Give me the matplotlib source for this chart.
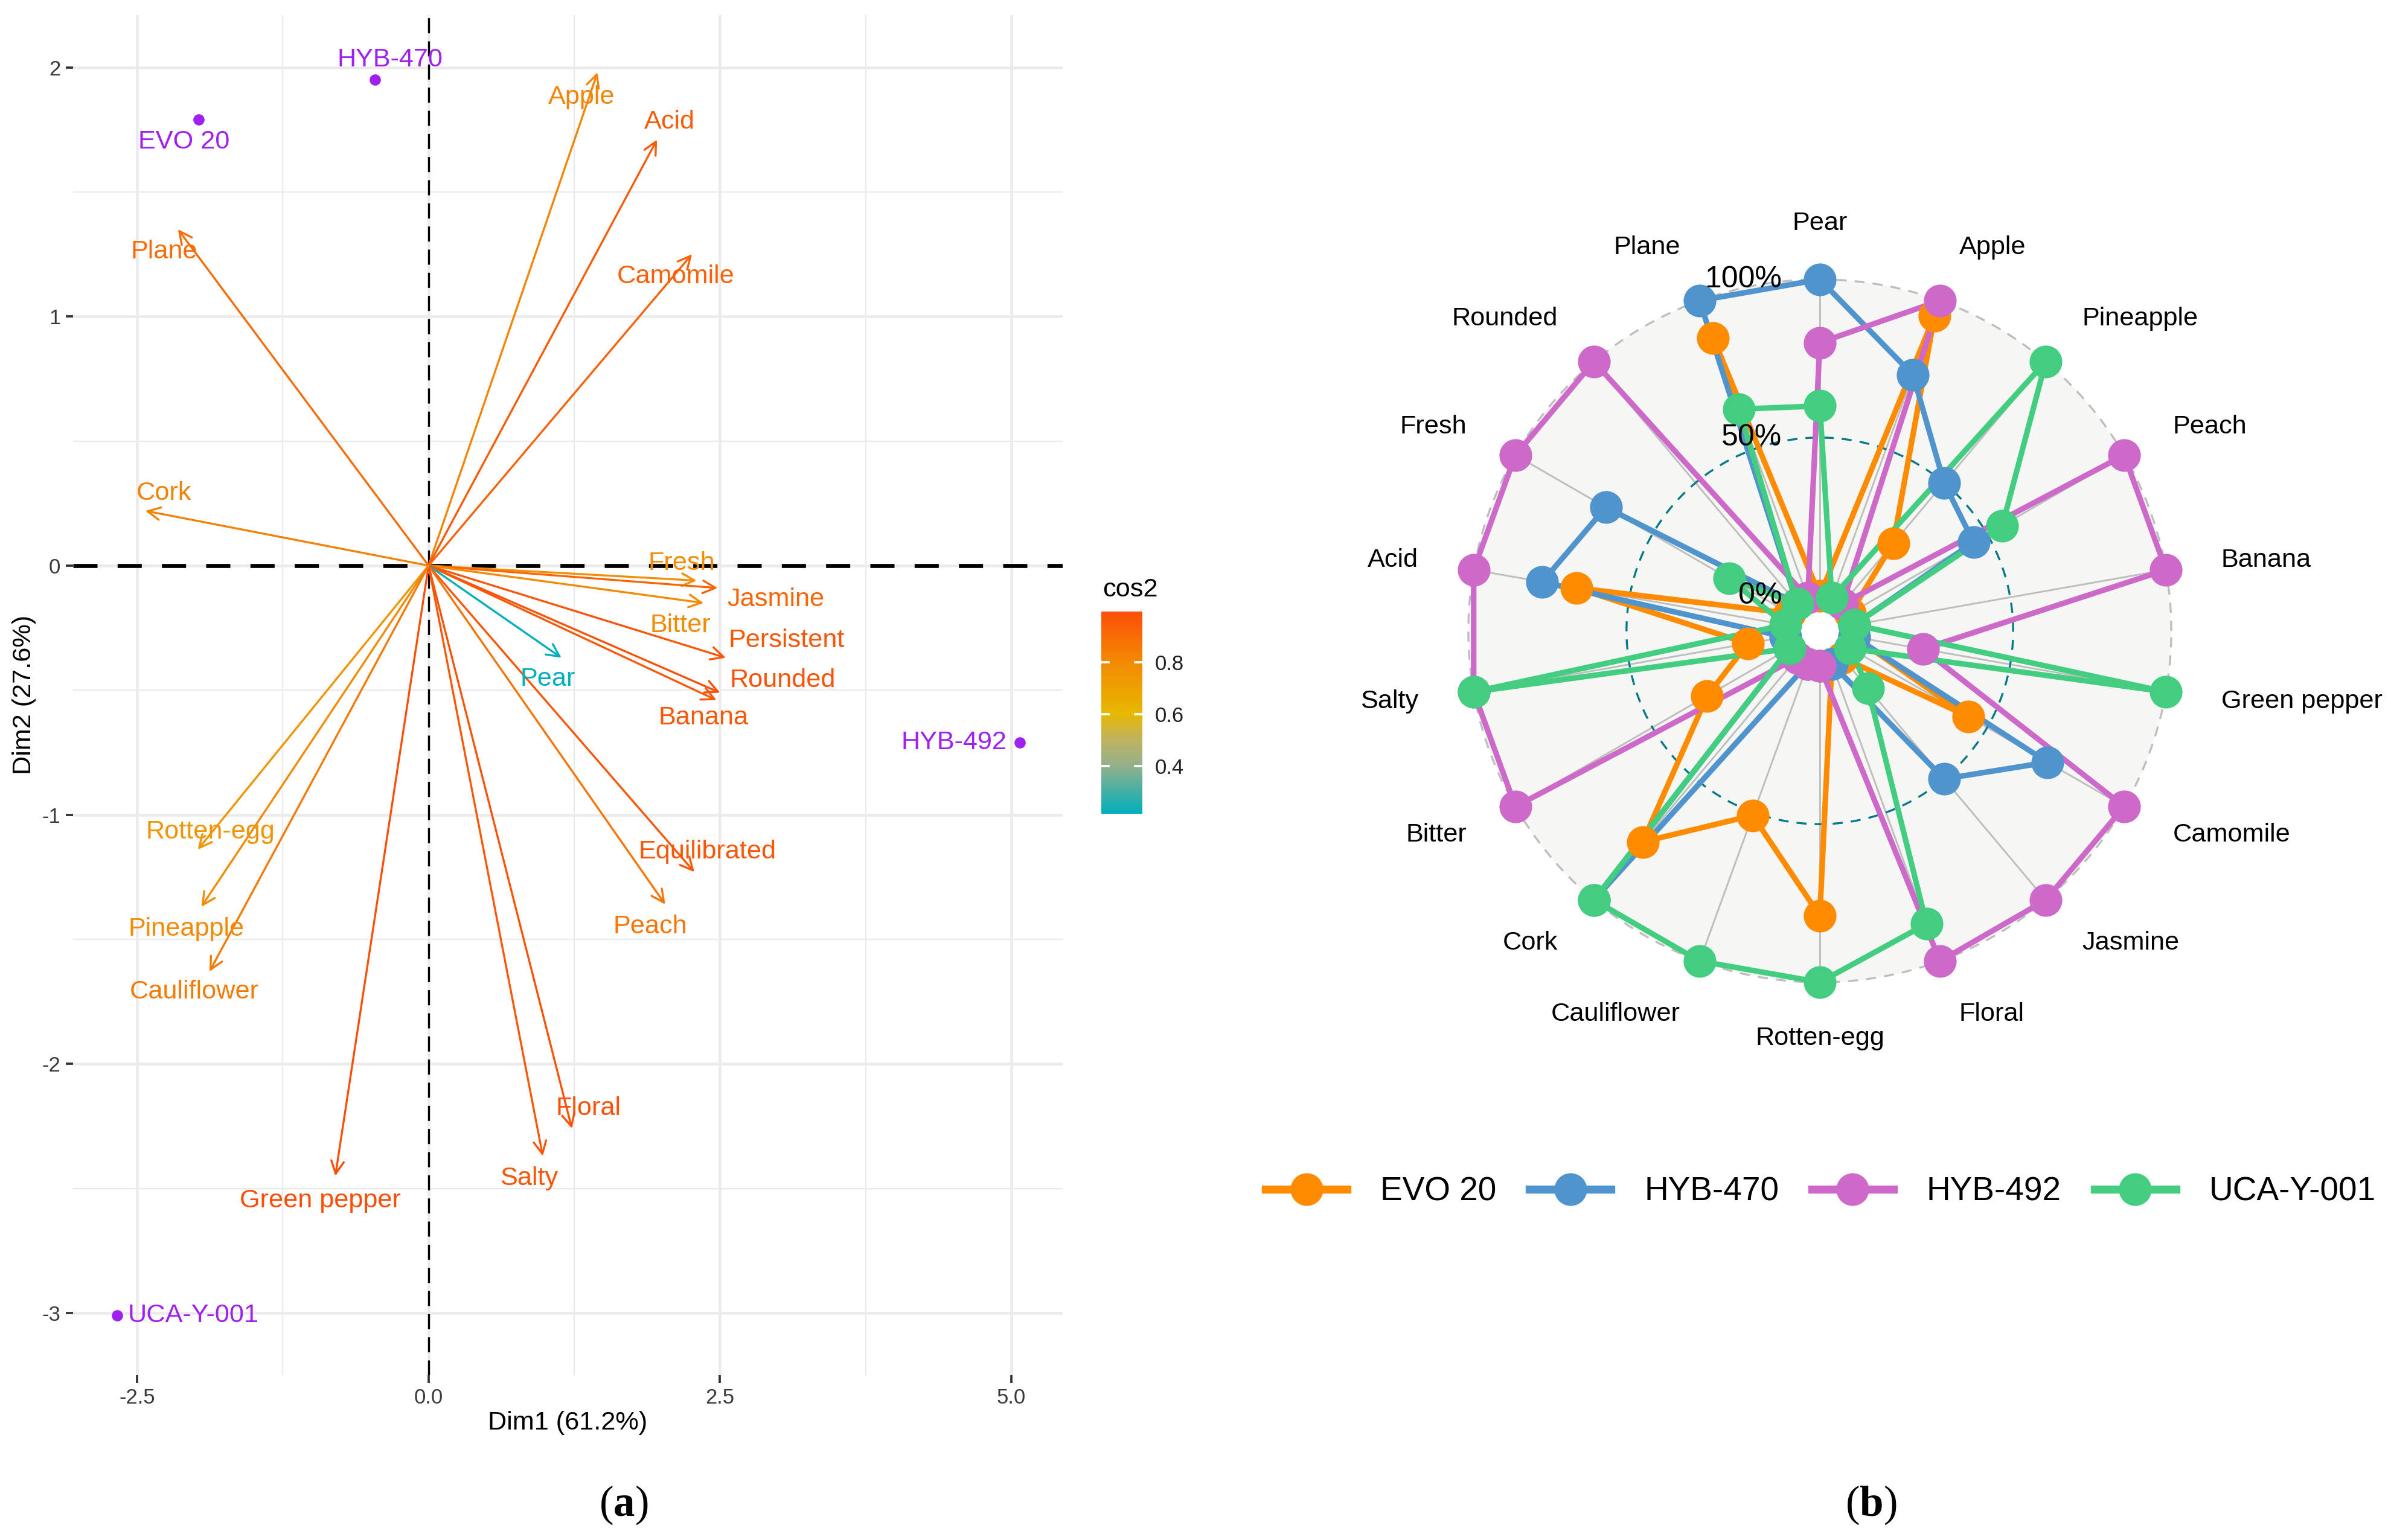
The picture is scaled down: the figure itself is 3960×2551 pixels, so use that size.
import numpy as np
import matplotlib.pyplot as plt
from matplotlib.colors import LinearSegmentedColormap, Normalize
from matplotlib.cm import ScalarMappable
from matplotlib.lines import Line2D
from matplotlib.patches import Circle
from matplotlib.ticker import FormatStrFormatter, FixedLocator

plt.rcParams["font.family"] = ["Liberation Sans", "DejaVu Sans"]
plt.rcParams["axes.unicode_minus"] = False
plt.rcParams["mathtext.fontset"] = "custom"
plt.rcParams["mathtext.rm"] = "Liberation Serif"
plt.rcParams["mathtext.bf"] = "Liberation Serif:bold"

# ---- (a) PCA biplot: variables
var_names = ["Apple", "Acid", "Camomile", "Plane", "Cork", "Fresh", "Jasmine", "Bitter",
             "Persistent", "Rounded", "Banana", "Pear", "Equilibrated", "Peach", "Floral",
             "Salty", "Green pepper", "Rotten-egg", "Pineapple", "Cauliflower"]
var_dim1 = [1.45, 1.96, 2.26, -2.15, -2.43, 2.30, 2.48, 2.36, 2.55, 2.50, 2.47, 1.14,
            2.28, 2.03, 1.23, 0.98, -0.80, -1.98, -1.95, -1.88]
var_dim2 = [1.98, 1.71, 1.25, 1.35, 0.22, -0.06, -0.09, -0.15, -0.37, -0.51, -0.54, -0.37,
            -1.23, -1.36, -2.26, -2.37, -2.45, -1.14, -1.37, -1.63]
var_cos2 = [0.82, 0.95, 0.93, 0.90, 0.83, 0.78, 0.92, 0.80, 0.97, 0.98, 0.96, 0.216,
            0.97, 0.87, 0.98, 0.97, 0.995, 0.75, 0.80, 0.85]

# individuals
ind_names = ["EVO 20", "HYB-470", "HYB-492", "UCA-Y-001"]
ind_dim1 = [-1.97, -0.46, 5.07, -2.67]
ind_dim2 = [1.79, 1.95, -0.71, -3.01]

# label placement (repelled text positions, data coords)
var_label_xy = {
    "Apple": (1.31, 1.88), "Acid": (2.07, 1.78), "Camomile": (2.12, 1.16),
    "Plane": (-2.27, 1.26), "Cork": (-2.27, 0.29), "Fresh": (2.17, 0.01),
    "Jasmine": (2.98, -0.135), "Bitter": (2.16, -0.24), "Persistent": (3.07, -0.30),
    "Rounded": (3.04, -0.46), "Banana": (2.36, -0.61), "Pear": (1.02, -0.455),
    "Equilibrated": (2.39, -1.15), "Peach": (1.90, -1.45), "Floral": (1.37, -2.18),
    "Salty": (0.86, -2.46), "Green pepper": (-0.93, -2.55), "Rotten-egg": (-1.87, -1.07),
    "Pineapple": (-2.08, -1.46), "Cauliflower": (-2.01, -1.71),
}
ind_label_xy = {
    "EVO 20": (-2.10, 1.70, "center"), "HYB-470": (-0.33, 2.03, "center"),
    "HYB-492": (4.96, -0.71, "right"), "UCA-Y-001": (-2.58, -3.01, "left"),
}

# ---- (b) radar chart
categories = ["Pear", "Apple", "Pineapple", "Peach", "Banana", "Green pepper", "Camomile",
              "Jasmine", "Floral", "Rotten-egg", "Cauliflower", "Cork", "Bitter", "Salty",
              "Acid", "Fresh", "Rounded", "Plane"]
series_names = ["EVO 20", "HYB-470", "HYB-492", "UCA-Y-001"]
evo_20 = [0.0, 0.95, 0.25, 0.0, 0.0, 0.0, 0.43, 0.0, 0.0, 0.79, 0.51, 0.76, 0.30, 0.12,
          0.67, 0.0, 0.0, 0.875]
hyb_470 = [1.0, 0.75, 0.50, 0.45, 0.0, 0.0, 0.72, 0.50, 0.0, 0.0, 0.0, 1.0, 0.0, 0.0,
           0.78, 0.67, 0.0, 1.0]
hyb_492 = [0.80, 1.0, 0.0, 1.0, 1.0, 0.22, 1.0, 1.0, 1.0, 0.0, 0.0, 0.0, 1.0, 1.0,
           1.0, 1.0, 1.0, 0.0]
uca_y_001 = [0.60, 0.0, 1.0, 0.555, 0.0, 1.0, 0.0, 0.125, 0.875, 1.0, 1.0, 1.0, 0.0, 1.0,
             0.0, 0.22, 0.0, 0.635]
series_values = [evo_20, hyb_470, hyb_492, uca_y_001]
series_colors = ["#FF8C00", "#4F94CD", "#CD69C9", "#43CD80"]
grid_levels = [0.0, 0.5, 1.0]
grid_labels = ["0%", "50%", "100%"]

W, H = 3960, 2551
fig = plt.figure(figsize=(W / 300, H / 300), dpi=300)

# ================= panel (a)
ax = fig.add_axes([121 / W, 1 - 2278 / H, (1760 - 121) / W, (2278 - 25) / H])
ax.set_xlim(-3.05, 5.44)
ax.set_ylim(-3.25, 2.21)
ax.xaxis.set_major_locator(FixedLocator([-2.5, 0, 2.5, 5.0]))
ax.xaxis.set_minor_locator(FixedLocator([-1.25, 1.25, 3.75]))
ax.yaxis.set_major_locator(FixedLocator([-3, -2, -1, 0, 1, 2]))
ax.yaxis.set_minor_locator(FixedLocator([-2.5, -1.5, -0.5, 0.5, 1.5]))
ax.xaxis.set_major_formatter(FormatStrFormatter("%.1f"))
ax.yaxis.set_major_formatter(FormatStrFormatter("%d"))
ax.grid(which="major", color="#EBEBEB", lw=1.1)
ax.grid(which="minor", color="#EBEBEB", lw=0.55)
ax.set_axisbelow(True)
for s in ax.spines.values():
    s.set_visible(False)
ax.tick_params(which="major", length=3, width=0.9, pad=2, labelsize=8.3,
               color="#333333", labelcolor="#3A3A3A")
ax.tick_params(which="minor", length=0)

ax.axhline(0, color="black", lw=1.6, ls=(0, (6, 5)), zorder=1.5)
ax.axvline(0, color="black", lw=0.8, ls=(0, (7.5, 4)), zorder=1.5)

nodes = [0.216, 0.4, 0.5, 0.6, 0.8, 0.995]
node_cols = ["#00AFBB", "#93B08C", "#BFB262", "#E7B800", "#F38A03", "#FC4E07"]
vmin, vmax = min(var_cos2), max(var_cos2)
cmap = LinearSegmentedColormap.from_list(
    "cos2", [((v - vmin) / (vmax - vmin), c) for v, c in zip(nodes, node_cols)])
norm = Normalize(vmin=vmin, vmax=vmax)

for name, x, y, c2 in zip(var_names, var_dim1, var_dim2, var_cos2):
    col = cmap(norm(c2))
    ax.annotate("", xy=(x, y), xytext=(0, 0),
                arrowprops=dict(arrowstyle="->,head_length=0.5,head_width=0.25",
                                color=col, lw=0.8, shrinkA=0, shrinkB=0), zorder=3)
    lx, ly = var_label_xy[name]
    ax.text(lx, ly, name, color=col, fontsize=10.4, ha="center", va="center", zorder=4)

ax.scatter(ind_dim1, ind_dim2, s=20, color="#A020F0", zorder=5, linewidths=0)
for name in ind_names:
    lx, ly, ha = ind_label_xy[name]
    ax.text(lx, ly, name, color="#A020F0", fontsize=10.4, ha=ha, va="center", zorder=5)

fig.text(940 / W, 1 - 2357 / H, "Dim1 (61.2%)", fontsize=10.4, ha="center", va="center")
fig.text(40 / W, 1 - 1151 / H, "Dim2 (27.6%)", fontsize=10.4, ha="center", va="center",
         rotation=90)

# colorbar
cax = fig.add_axes([1824 / W, 1 - 1348 / H, 68 / W, 335 / H])
cb = fig.colorbar(ScalarMappable(norm=norm, cmap=cmap), cax=cax)
cb.outline.set_visible(False)
cb.set_ticks([0.4, 0.6, 0.8])
cb.set_ticklabels(["0.4", "0.6", "0.8"])
cax.tick_params(length=0, pad=5, labelsize=8.3, labelcolor="#222222")
for v in [0.4, 0.6, 0.8]:
    cax.axhline(v, 0, 0.18, color="white", lw=0.9)
    cax.axhline(v, 0.82, 1, color="white", lw=0.9)
fig.text(1826 / W, 1 - 977 / H, "cos2", fontsize=10.4, ha="left", va="center")

# ================= panel (b)
rax = fig.add_axes([2214 / W, 1 - 1845 / H, 1600 / W, 1600 / H])
lim = 1.527
rax.set_xlim(-lim, lim)
rax.set_ylim(-lim, lim)
rax.axis("off")

offset = 1 / 9
rmax = 1 + offset
n = len(categories)
theta = np.deg2rad(90 - 360 / n * np.arange(n))

rax.add_patch(Circle((0, 0), rmax, fc="#F6F6F4", ec="none", zorder=0))
for th in theta:
    rax.plot([0, rmax * np.cos(th)], [0, rmax * np.sin(th)], color="#BEBEBE", lw=0.7, zorder=1)
t = np.linspace(0, 2 * np.pi, 500)
for lev, col in zip(grid_levels, ["#BEBEBE", "#007A87", "#BEBEBE"]):
    r = lev + offset
    rax.plot(r * np.cos(t), r * np.sin(t), color=col, lw=0.8, ls=(0, (5, 4)), zorder=1.2)
rax.add_patch(Circle((0, 0), 0.06, fc="white", ec="none", zorder=1.5))

for vals, col in zip(series_values, series_colors):
    r = np.array(vals) + offset
    x = np.append(r * np.cos(theta), r[0] * np.cos(theta[0]))
    y = np.append(r * np.sin(theta), r[0] * np.sin(theta[0]))
    rax.plot(x, y, color=col, lw=2.2, zorder=3, solid_joinstyle="round")
for i, (vals, col) in enumerate(zip(series_values, series_colors)):
    r = np.array(vals) + offset
    rax.plot(r * np.cos(theta), r * np.sin(theta), ls="none", marker="o", ms=13,
             color=col, mec="none", zorder=4 + i * 0.01)

for lev, lab in zip(grid_levels, grid_labels):
    rax.text(-0.12, lev + offset, lab, fontsize=12, ha="right", va="center", zorder=6)

lab_r = 1.16 * rmax
for th, cat in zip(theta, categories):
    c = np.cos(th)
    ha = "left" if c > 0.01 else ("right" if c < -0.01 else "center")
    rax.text(lab_r * c, lab_r * np.sin(th), cat, fontsize=10.4, ha=ha, va="center")

handles = [Line2D([], [], color=c, lw=3.2, marker="o", ms=13, mec="none")
           for c in series_colors]
fig.legend(handles, series_names, loc="center", bbox_to_anchor=(0.7615, 0.2258), ncol=4,
           frameon=False, fontsize=13.2, handlelength=2.45, handletextpad=1.0,
           columnspacing=1.0, borderpad=0, borderaxespad=0)

# captions
fig.text(1033 / W, 1 - 2493 / H, r"$\mathrm{(}\mathbf{a}\mathrm{)}$", fontsize=17,
         ha="center", va="center")
fig.text(3099 / W, 1 - 2493 / H, r"$\mathrm{(}\mathbf{b}\mathrm{)}$", fontsize=17,
         ha="center", va="center")

fig.savefig("out.png", dpi=300)
